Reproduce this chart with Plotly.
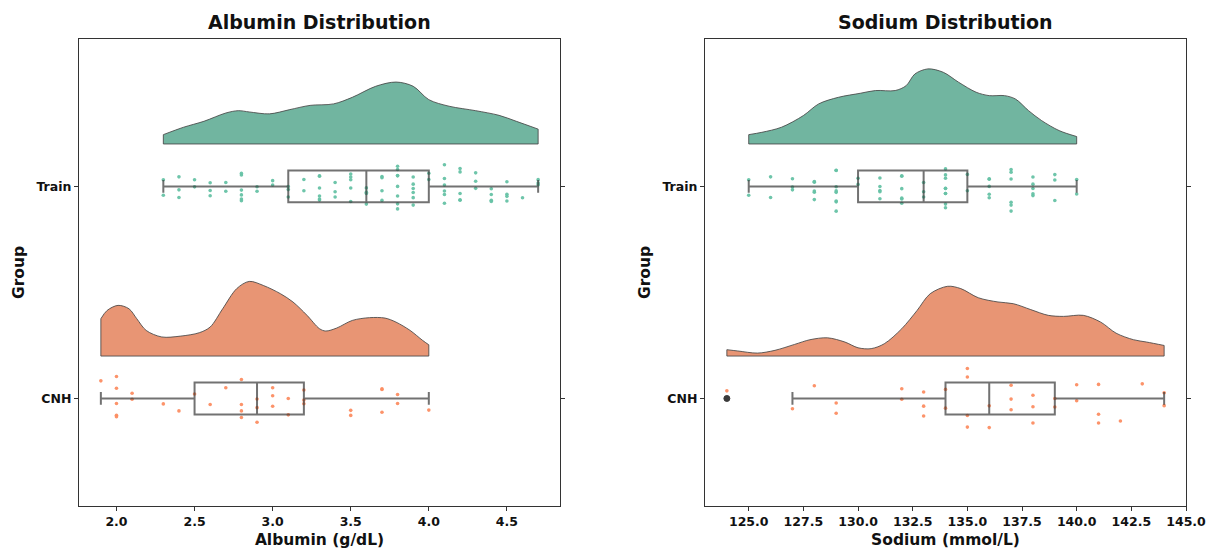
import numpy as np
import plotly.graph_objects as go

# ---------------------------------------------------------------------------
# Data
# ---------------------------------------------------------------------------
groups = ["Train", "CNH"]
group_pos = {"Train": 1, "CNH": 0}

# Albumin (g/dL): observed values and how often each occurs
alb_train_vals = [2.3, 2.4, 2.5, 2.6, 2.7, 2.8, 2.9, 3.0, 3.1, 3.2, 3.3, 3.4, 3.5,
                  3.6, 3.7, 3.8, 3.9, 4.0, 4.1, 4.2, 4.3, 4.4, 4.5, 4.6, 4.7]
alb_train_counts = [2, 3, 2, 3, 2, 6, 2, 2, 3, 2, 6, 3, 5,
                    4, 4, 8, 6, 2, 6, 5, 3, 4, 4, 1, 3]
alb_cnh_vals = [1.9, 2.0, 2.1, 2.3, 2.4, 2.5, 2.6, 2.7, 2.8, 2.9, 3.0, 3.1, 3.2,
                3.5, 3.7, 3.8, 4.0]
alb_cnh_counts = [1, 5, 2, 1, 1, 1, 1, 1, 4, 3, 3, 2, 3, 2, 3, 2, 1]

# Sodium (mmol/L)
na_train_vals = [125, 126, 127, 128, 129, 130, 131, 132, 133, 134, 135, 136,
                 137, 138, 139, 140]
na_train_counts = [2, 2, 3, 5, 8, 2, 5, 6, 3, 9, 2, 5, 6, 5, 3, 2]
na_cnh_vals = [124, 127, 128, 129, 132, 133, 134, 135, 136, 137, 138, 139, 140,
               141, 142, 143, 144]
na_cnh_counts = [1, 1, 1, 2, 2, 3, 2, 4, 2, 3, 3, 2, 2, 3, 1, 1, 2]

# Box summaries: [lower whisker, Q1, median, Q3, upper whisker]
alb_train_box = [2.3, 3.1, 3.6, 4.0, 4.7]
alb_cnh_box = [1.9, 2.5, 2.9, 3.2, 4.0]
na_train_box = [125, 130, 133, 135, 140]
na_cnh_box = [127, 134, 136, 139, 144]
na_cnh_fliers = [124]

# Half-violin ("cloud") density profiles, cut at the data range
alb_train_cloud_x = [2.30, 2.43, 2.56, 2.70, 2.78, 2.85, 2.98, 3.11, 3.24, 3.39,
                     3.51, 3.66, 3.79, 3.90, 4.00, 4.13, 4.30, 4.45, 4.56, 4.70]
alb_train_cloud_d = [0.044, 0.079, 0.107, 0.146, 0.157, 0.151, 0.142, 0.162, 0.182,
                     0.189, 0.220, 0.272, 0.292, 0.272, 0.209, 0.178, 0.157, 0.135,
                     0.107, 0.070]
alb_cnh_cloud_x = [1.90, 1.94, 2.01, 2.08, 2.13, 2.19, 2.29, 2.41, 2.53, 2.60, 2.68,
                   2.77, 2.85, 2.94, 3.05, 3.13, 3.22, 3.30, 3.34, 3.41, 3.51, 3.62,
                   3.72, 3.79, 3.88, 3.96, 4.00]
alb_cnh_cloud_d = [0.176, 0.215, 0.239, 0.223, 0.176, 0.121, 0.090, 0.094, 0.110,
                   0.137, 0.223, 0.318, 0.352, 0.333, 0.294, 0.255, 0.192, 0.129,
                   0.118, 0.132, 0.168, 0.181, 0.179, 0.160, 0.121, 0.074, 0.053]
na_train_cloud_x = [125.0, 125.6, 126.5, 127.5, 128.2, 129.1, 130.1, 130.8, 131.7,
                    132.2, 132.6, 133.2, 133.9, 134.6, 135.4, 136.0, 136.7, 137.2,
                    137.8, 138.4, 139.2, 140.0]
na_train_cloud_d = [0.044, 0.055, 0.079, 0.134, 0.189, 0.220, 0.239, 0.252, 0.252,
                    0.275, 0.330, 0.354, 0.338, 0.291, 0.244, 0.228, 0.228, 0.212,
                    0.157, 0.110, 0.063, 0.035]
na_cnh_cloud_x = [124.0, 124.5, 125.4, 126.2, 127.1, 127.8, 128.6, 129.4, 130.0,
                  130.6, 131.2, 132.0, 132.7, 133.3, 134.1, 134.7, 135.5, 136.4,
                  137.1, 137.9, 138.7, 139.4, 140.3, 141.1, 141.8, 142.6, 143.2,
                  144.0]
na_cnh_cloud_d = [0.030, 0.024, 0.014, 0.027, 0.055, 0.077, 0.086, 0.066, 0.039,
                  0.035, 0.058, 0.129, 0.215, 0.294, 0.329, 0.318, 0.275, 0.255,
                  0.247, 0.219, 0.192, 0.187, 0.192, 0.160, 0.108, 0.077, 0.066,
                  0.050]

alb_ticks = [2.0, 2.5, 3.0, 3.5, 4.0, 4.5]
na_ticks = [125.0, 127.5, 130.0, 132.5, 135.0, 137.5, 140.0, 142.5, 145.0]

# ---------------------------------------------------------------------------
# Styling
# ---------------------------------------------------------------------------
W, H = 1207, 550
FONT = "DejaVu Sans"
point_colors = {"Train": "#66c2a5", "CNH": "#fc8d62"}
cloud_colors = {"Train": "#71b5a0", "CNH": "#e89574"}
edge = "rgba(70,70,70,0.85)"
box_line = "rgba(60,60,60,0.72)"
cloud_offset = 0.2     # gap between box centre and the cloud baseline
box_width = 0.15
# plotly scales jitter by local point density, so the sparser group gets a wider band
strip_width = {"Train": 0.24, "CNH": 0.32}

panels = [
    dict(x="x", y="y", title="Albumin Distribution", xlabel="Albumin (g/dL)",
         data={"Train": (alb_train_vals, alb_train_counts, alb_train_box,
                         alb_train_cloud_x, alb_train_cloud_d, []),
               "CNH": (alb_cnh_vals, alb_cnh_counts, alb_cnh_box,
                       alb_cnh_cloud_x, alb_cnh_cloud_d, [])},
         ticks=alb_ticks, rng=[1.76, 4.84], px=(79, 560)),
    dict(x="x2", y="y2", title="Sodium Distribution", xlabel="Sodium (mmol/L)",
         data={"Train": (na_train_vals, na_train_counts, na_train_box,
                         na_train_cloud_x, na_train_cloud_d, []),
               "CNH": (na_cnh_vals, na_cnh_counts, na_cnh_box,
                       na_cnh_cloud_x, na_cnh_cloud_d, na_cnh_fliers)},
         ticks=na_ticks, rng=[123.0, 145.0], px=(705, 1186)),
]

fig = go.Figure()

for p in panels:
    for g in groups:
        vals, counts, box, cx, cd, fliers = p["data"][g]
        pos = group_pos[g]
        base = pos + cloud_offset

        # cloud: U-shaped baseline first, then the density curve filled to it
        top = [base + d for d in cd]
        fig.add_trace(go.Scatter(
            x=[cx[0], cx[0], cx[-1], cx[-1]], y=[top[0], base, base, top[-1]],
            mode="lines", line=dict(color=edge, width=1),
            xaxis=p["x"], yaxis=p["y"], showlegend=False, hoverinfo="skip"))
        fig.add_trace(go.Scatter(
            x=cx, y=top, mode="lines", fill="tonexty",
            fillcolor=cloud_colors[g],
            line=dict(color=edge, width=1, shape="spline", smoothing=0.9),
            xaxis=p["x"], yaxis=p["y"], showlegend=False, hoverinfo="skip"))

        # rain: every observation, jittered around the group line
        samples = np.repeat(vals, counts)
        fig.add_trace(go.Box(
            x=samples, y=[pos] * len(samples), orientation="h",
            boxpoints="all", jitter=1, pointpos=0, width=strip_width[g],
            fillcolor="rgba(0,0,0,0)", line=dict(width=0),
            marker=dict(color=point_colors[g], size=3.6, opacity=0.95),
            xaxis=p["x"], yaxis=p["y"], showlegend=False, hoverinfo="skip"))

        # box from the summary statistics
        lo, q1, med, q3, hi = box
        fig.add_trace(go.Box(
            y=[pos], q1=[q1], median=[med], q3=[q3],
            lowerfence=[lo], upperfence=[hi], orientation="h",
            width=box_width, whiskerwidth=0.4, boxpoints=False,
            fillcolor="rgba(255,255,255,0)", line=dict(color=box_line, width=2),
            xaxis=p["x"], yaxis=p["y"], showlegend=False, hoverinfo="skip"))

        if fliers:
            fig.add_trace(go.Scatter(
                x=fliers, y=[pos] * len(fliers), mode="markers",
                marker=dict(color="#3a3a3a", size=6,
                            line=dict(color="#3a3a3a", width=1)),
                xaxis=p["x"], yaxis=p["y"], showlegend=False, hoverinfo="skip"))

# ---------------------------------------------------------------------------
# Axes and layout
# ---------------------------------------------------------------------------
y_top_px, y_bot_px = 39, 506
y_domain = [1 - y_bot_px / H, 1 - y_top_px / H]
y_range = [-0.507, 1.695]

tick_font = dict(family=FONT, size=12.5, color="#111", weight="bold")
label_font = dict(family=FONT, size=15.5, color="#111", weight="bold")
title_font = dict(family=FONT, size=19, color="#111", weight="bold")

layout = dict(
    width=W, height=H, margin=dict(l=0, r=0, t=0, b=0, autoexpand=False),
    paper_bgcolor="white", plot_bgcolor="white",
    showlegend=False, boxmode="overlay",
    annotations=[],
)

for p in panels:
    xkey = "xaxis" + p["x"][1:]
    ykey = "yaxis" + p["y"][1:]
    x0, x1 = p["px"]
    layout[xkey] = dict(
        domain=[x0 / W, x1 / W], range=p["rng"], anchor=p["y"],
        automargin=False,
        tickvals=p["ticks"], ticktext=[f"{t:.1f}" for t in p["ticks"]],
        ticks="outside", ticklen=4, tickwidth=1.2, tickcolor="#333",
        showline=True, linecolor="#333", linewidth=1.2, mirror=True,
        showgrid=False, zeroline=False, tickfont=tick_font,
        title=dict(text=p["xlabel"], font=label_font, standoff=6),
    )
    layout[ykey] = dict(
        domain=y_domain, range=y_range, anchor=p["x"],
        automargin=False,
        tickvals=[group_pos[g] for g in groups], ticktext=groups,
        ticks="outside", ticklen=4, tickwidth=1.2, tickcolor="#333",
        showline=True, linecolor="#333", linewidth=1.2, mirror="ticks",
        showgrid=False, zeroline=False, tickfont=tick_font,
        title=dict(text="Group", font=label_font, standoff=8),
    )
    layout["annotations"].append(dict(
        text=p["title"], x=(x0 + x1) / 2 / W, y=1 - 22 / H,
        xref="paper", yref="paper", xanchor="center", yanchor="middle",
        showarrow=False, font=title_font))

fig.update_layout(**layout)
fig.write_html("out.html")
